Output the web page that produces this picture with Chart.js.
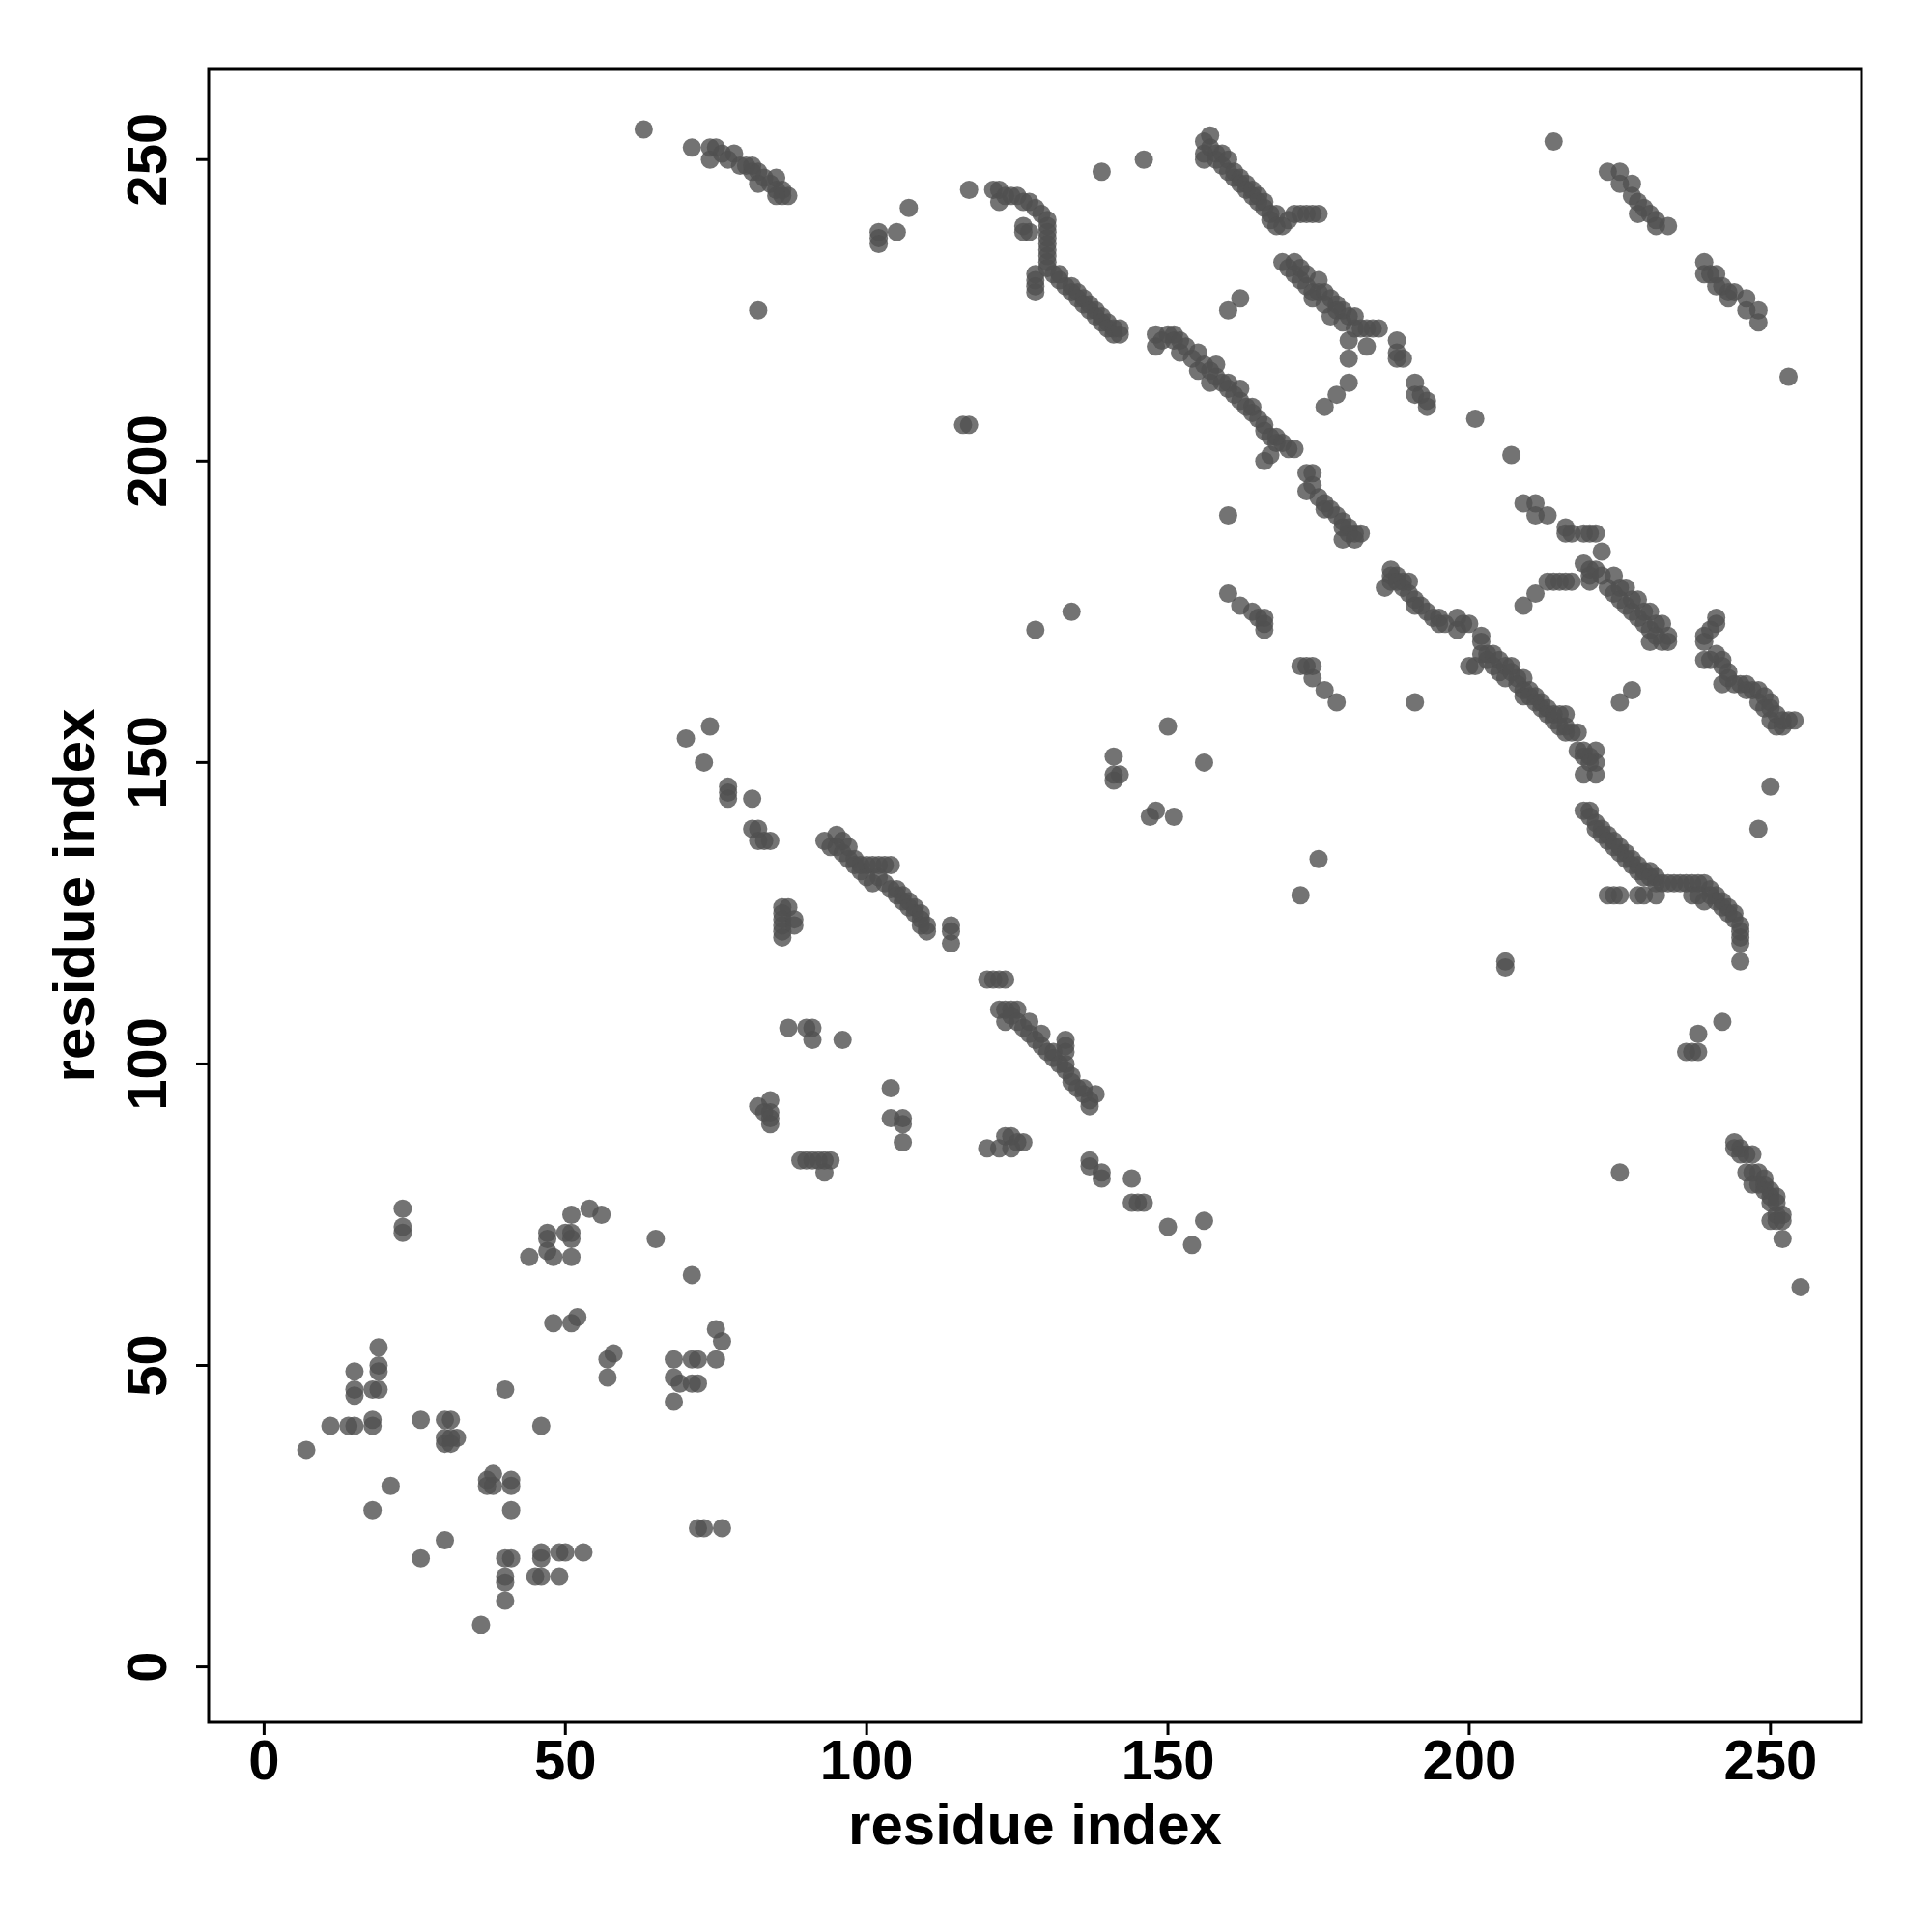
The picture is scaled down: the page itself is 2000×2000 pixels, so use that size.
<!DOCTYPE html>
<html>
<head>
<meta charset="utf-8">
<script src="https://cdn.jsdelivr.net/npm/chart.js@4/dist/chart.umd.min.js"></script>
<style>
html,body{margin:0;padding:0;background:#fff;}
#wrap{width:2000px;height:2000px;}
</style>
</head>
<body>
<div id="wrap"><canvas id="c" width="2000" height="2000"></canvas></div>
<script>
// residue-residue contacts [i, j]
const lowerLeft = [[7,36],[11,40],[14,40],[15,40],[15,49],[15,46],[15,45],[18,46],[19,46],[18,41],[18,40],[19,53],[19,50],[19,49],[21,30],[18,26],[23,76],[23,73],[23,72],[26,41],[26,18],[30,21],[30,41],[31,41],[30,38],[31,38],[32,38],[30,37],[31,37],[37,31],[38,32],[37,30],[38,30],[41,31],[41,30],[40,46],[46,40],[41,26],[40,18],[41,18],[40,15],[40,14],[40,11],[36,7],[46,19],[46,18],[49,19],[50,19],[53,19],[45,15],[46,15],[49,15],
[44,68],[47,72],[47,71],[47,69],[48,68],[50,72],[51,72],[51,71],[51,75],[54,76],[56,75],[51,68],[65,71],[71,65],[48,57],[51,57],[52,58],[57,51],[58,52],[57,48],[68,51],[71,51],[72,51],[68,48],[69,47],[71,47],[72,47],[68,44],[72,23],[73,23],[76,23],[75,56],[76,54],[75,51]];

const middleLeft = [[70,154],[74,156],[73,150],[77,146],[77,145],[77,144],[81,144],[81,139],[82,139],[82,137],[83,137],[84,137],
[86,126],[87,126],[86,125],[86,124],[86,123],[86,122],[86,121],[88,124],[88,123],
[87,106],[90,106],[91,106],[91,104],[96,104],
[84,94],[82,93],[83,92],[84,92],[84,91],[84,90],
[104,96],[104,91],[106,91],[106,90],[106,87],
[89,84],[90,84],[91,84],[92,84],[93,84],[94,84],[93,82],
[93,137],[94,136],[95,138],[95,136],[96,135],[96,137],[97,136],[97,134],[98,134],[98,133],[99,133],[99,132],[100,133],[100,131],[101,133],[101,130],[102,133],[102,131],[103,133],[103,130],[104,133],[104,129],[105,128],[105,129],[106,128],[106,127],[107,127],[107,126],[108,126],[108,125],[109,125],[109,124],[109,123],[110,123],[110,122],
[114,123],[114,122],[114,120],[120,114],[121,114],[122,114],[123,114]];

const middleRight = [[122,109],[123,109],[124,109],[125,109],[123,107],[124,108],[125,107],[126,106],[127,107],[127,105],[128,104],[129,105],[129,103],[130,102],[131,102],[131,101],[132,100],[133,100],[133,99],[133,104],[133,103],[133,102],[134,98],[134,97],[135,96],[136,96],[136,95],[137,94],[137,93],[138,95],
[120,86],[122,86],[123,88],[124,88],[125,87],[126,87],[124,86],
[137,84],[137,83],[139,82],[139,81],[144,81],[144,77],[145,77],[146,77],[150,73],[156,74],[154,70],
[150,156],[141,151],[141,148],[142,148],[141,147],[156,150],[147,141],[148,142],[151,141]];

const upperLeft = [[63,255],[71,252],[74,252],[75,252],[74,250],[76,251],[77,250],[78,251],[79,249],[80,249],[81,248],[81,249],[82,248],[82,246],[83,247],[84,246],[85,247],[85,245],[86,245],[86,244],[87,244],[85,244],
[82,225],[102,238],[102,237],[102,236],[105,238],[107,242],[116,206],[117,206],[117,245],[139,248],[146,250]];

const upperBandA = [[121,245],[122,245],[122,243],[123,244],[124,244],[125,244],[126,243],[127,243],[128,242],[129,241],[126,239],[126,238],[127,238],[130,240],[130,239],[130,238],[130,237],[130,236],[130,235],[130,234],[130,233],[130,232],[128,231],[128,230],[128,229],[128,228],
[131,231],[132,230],[132,231],[133,229],[134,229],[134,228],[135,227],[135,228],[136,227],[136,226],[137,226],[137,225],[138,225],[138,224],[139,224],[139,223],[140,223],[140,222],[141,222],[141,221],[142,221],[142,222]];

const upperBandB = [[156,253],[156,251],[156,250],[157,254],[157,252],[158,251],[158,250],[159,251],[159,249],[160,250],[160,248],[161,248],[161,247],[162,247],[162,246],[163,246],[163,245],[164,244],[164,245],[165,243],[165,244],[166,243],[166,242],[167,241],[167,240],[168,241],[168,239],[169,239],[170,240],[171,241],[172,241],[173,241],[174,241],[175,241]];

const upperBandC = [[148,221],[148,219],[149,220],[150,221],[151,221],[151,220],[152,220],[152,218],[153,219],[154,217],[155,218],[155,215],[156,216],[157,215],[157,213],[158,214],[158,216],[159,213],[160,212],[160,213],[161,211],[162,210],[162,212],[163,209],[164,209],[164,208],[165,207],[166,206],[166,205],[167,204],[168,203],[168,204],[169,203],[170,202],[171,202],[166,200],[167,201],
[160,225],[162,227],[160,191]];

const upperBandD = [[169,233],[170,232],[171,233],[171,231],[172,232],[172,230],[173,229],[173,231],[174,228],[174,227],[175,230],[175,228],[176,228],[176,226],[177,227],[177,224],[178,226],[178,225],[179,225],[179,223],[180,224],[181,224],[181,222],[182,222],[183,222],[184,222],[185,222],[183,219],[180,220],[180,217],[180,213],[178,211],[176,209],
[188,220],[188,218],[188,217],[189,217],[191,213],[191,211],[192,211],[193,210],[193,209],[201,207],[207,201],[214,253]];

const upperRight = [[223,248],[225,248],[225,246],[227,246],[227,244],[228,243],[228,241],[229,242],[230,241],[231,240],[231,239],[233,239],
[239,233],[239,231],[240,231],[241,231],[241,229],[242,229],[243,228],[243,227],[244,228],[246,227],[246,225],[248,225],[248,223],[253,214]];

const rightBandA = [[173,198],[174,198],[173,195],[174,196],[175,194],[176,193],[176,192],[177,192],[178,191],[179,190],[179,189],[180,188],[180,189],[181,188],[182,188],[179,187],[181,187],
[187,182],[187,181],[187,180],[186,179],[188,181],[188,180],[189,180],[190,180],[189,179],[190,178],[191,177],[191,176],[192,176],[193,175],[194,174],[195,174],[195,173],[196,173],[198,174],[199,173],[198,172],[200,173]];

const rightBandB = [[200,166],[201,166],[202,171],[202,170],[202,168],[203,168],[203,167],[204,168],[204,166],[205,167],[205,165],[206,166],[206,164],[207,165],[207,166],[208,164],[208,163],[209,164],[209,162],[209,161],[210,162],[210,161],[211,161],[211,160],[212,160],[212,159],[213,159],[213,158],[214,158],[214,157],[215,158],[215,156],[216,158],[216,156],[216,155],[217,155],[218,155],[218,152],[219,151],[219,152],[220,151],[221,152],[219,148],[221,148],[220,150],[221,150]];

const rightScatter = [[160,178],[162,176],[164,175],[165,174],[166,174],[166,173],[166,172],[172,166],[173,166],[174,166],[174,164],[176,162],[178,160],[191,160],[134,175],[128,172],[209,176],[211,178],[213,180],[214,180],[215,180],[216,180],[217,180],[209,193],[211,193],[211,191],[213,191],[216,189],[216,188],[217,188],[219,188],[220,188],[221,188],[227,162],[225,160]];

const rightBandC = [[222,185],[219,183],[220,182],[221,182],[220,181],[220,180],[222,181],[224,181],[223,179],[224,178],[225,179],[226,179],[225,177],[226,176],[227,177],[228,177],[227,175],[228,174],[229,175],[230,175],[229,173],[230,172],[231,173],[232,173],[231,171],[233,171],[232,170],[233,170],[230,170]];

const rightBandD = [[241,174],[241,173],[240,172],[239,171],[239,170],[239,167],[240,167],[241,168],[242,167],[242,166],[243,165],[242,163],[243,164],[244,163],[245,163],[246,163],[246,162],[247,162],[248,162],[248,160],[249,161],[249,159],[250,160],[250,159],[250,157],[251,158],[251,156],[252,157],[252,156],[253,157],[254,157],[250,146],[248,139]];

const lowerRight = [[219,142],[220,142],[220,141],[221,140],[221,139],[222,139],[222,138],[223,137],[223,138],[224,136],[224,137],[225,135],[225,136],[226,135],[226,134],[227,134],[227,133],[228,133],[228,132],[229,132],[229,131],[230,132],[230,131],[231,131],[231,130],[232,130],[233,130],[234,130],[235,130],[236,130],[237,130],[238,130],[239,130],[240,129],[240,128],[241,128],[241,127],[242,127],[242,126],[243,126],[243,125],[244,125],[244,124],[245,123],[245,122],[245,121],[245,120],[245,117],
[223,128],[224,128],[225,128],[228,128],[229,128],[231,128],[237,128],[238,128],[239,127],
[172,128],[175,134],[206,117],[206,116],[242,107],[238,105],[236,102],[237,102],[238,102],[225,82],
[244,87],[244,86],[245,86],[245,85],[246,85],[247,85],[246,82],[247,82],[248,82],[249,81],[247,80],[248,80],[249,80],[249,79],[250,79],[250,78],[251,78],[250,77],[251,77],[252,75],[251,75],[250,74],[251,74],[252,74],[252,71],[255,63]];

const tickValues = [0, 50, 100, 150, 200, 250];
const axisTitle = "residue index";
const axisMin = -9.2, axisMax = 265.1;

const allGroups = [lowerLeft, middleLeft, middleRight, upperLeft, upperBandA, upperBandB, upperBandC, upperBandD, upperRight, rightBandA, rightBandB, rightScatter, rightBandC, rightBandD, lowerRight];
const points = [];
allGroups.forEach(g => g.forEach(p => points.push({x: p[0], y: p[1]})));

const FONT = '"Liberation Sans", Arial, sans-serif';

const axesPlugin = {
  id: 'axesPlugin',
  afterDraw(chart) {
    const {ctx, chartArea: a, scales} = chart;
    ctx.save();
    ctx.strokeStyle = '#000';
    ctx.lineWidth = 3;
    ctx.strokeRect(a.left, a.top, a.right - a.left, a.bottom - a.top);
    ctx.fillStyle = '#000';
    ctx.font = 'bold 58px ' + FONT;
    const tl = 13;
    tickValues.forEach(v => {
      const px = scales.x.getPixelForValue(v);
      ctx.beginPath(); ctx.moveTo(px, a.bottom); ctx.lineTo(px, a.bottom + tl); ctx.stroke();
      ctx.textAlign = 'center'; ctx.textBaseline = 'alphabetic';
      ctx.fillText(String(v), px, 1842);
      const py = scales.y.getPixelForValue(v);
      ctx.beginPath(); ctx.moveTo(a.left, py); ctx.lineTo(a.left - tl, py); ctx.stroke();
      ctx.save();
      ctx.translate(172, py);
      ctx.rotate(-Math.PI / 2);
      ctx.textAlign = 'center'; ctx.textBaseline = 'alphabetic';
      ctx.fillText(String(v), 0, 0);
      ctx.restore();
    });
    ctx.restore();
  }
};

new Chart(document.getElementById('c'), {
  type: 'scatter',
  data: {
    datasets: [{
      data: points,
      backgroundColor: 'rgba(80,80,80,0.8)',
      borderWidth: 0,
      pointRadius: 9.5,
      pointHoverRadius: 9.5
    }]
  },
  options: {
    responsive: false,
    animation: false,
    events: [],
    layout: {padding: {top: 71, right: 73, left: 0, bottom: 0}},
    plugins: {legend: {display: false}, tooltip: {enabled: false}},
    scales: {
      x: {
        type: 'linear', min: axisMin, max: axisMax,
        grid: {display: false}, border: {display: false},
        ticks: {display: false},
        title: {display: true, text: axisTitle, color: '#000',
                font: {family: FONT, size: 60, weight: 'bold', lineHeight: 1},
                padding: {top: 0, bottom: 78}},
        afterFit(s) { s.height = 217; }
      },
      y: {
        type: 'linear', min: axisMin, max: axisMax,
        grid: {display: false}, border: {display: false},
        ticks: {display: false},
        title: {display: true, text: axisTitle, color: '#000',
                font: {family: FONT, size: 60, weight: 'bold', lineHeight: 1},
                padding: {top: 50, bottom: 0}},
        afterFit(s) { s.width = 216; }
      }
    }
  },
  plugins: [axesPlugin]
});
</script>
</body>
</html>
